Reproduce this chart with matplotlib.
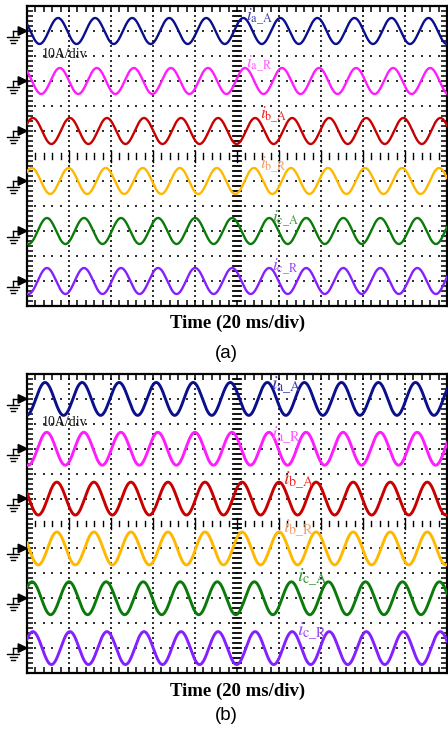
import numpy as np
import matplotlib
matplotlib.use('Agg')
import matplotlib.pyplot as plt

plt.rcParams['mathtext.fontset'] = 'stix'

# datos (unidades: divisiones del osciloscopio)
canales = ['a\\_A', 'a\\_R', 'b\\_A', 'b\\_R', 'c\\_A', 'c\\_R']
centros = [11, 9, 7, 5, 3, 1]
colores = ['#0a0f8c', '#ff1cff', '#c80000', '#ffb800', '#0a7a0a', '#8420ff']
colores_txt = ['#3c3ca8', '#ff5cff', '#ee2a2a', '#f4a070', '#3c963c', '#9a4cf0']
periodo = 0.882          # div por ciclo (20 ms/div)

pico_a = [0.74, 0.78, 0.14, 0.11, 0.475, 0.475]
pico_b = [0.43, 0.47, 0.71, 0.71, 0.12, 0.14]
amp_a = 0.52
amp_b = 0.66

etq_x_a = [5.22, 5.22, 5.55, 5.55, 5.84, 5.84]
etq_dy_a = [0.42, 0.54, 0.5, 0.5, 0.34, 0.42]
etq_x_b = [5.8, 5.8, 6.1, 6.1, 6.43, 6.43]
etq_dy_b = [0.34, 0.34, 0.54, 0.62, 0.62, 0.46]


def panel(ax, picos, amp, etq_x, etq_dy, lw, fs_etq):
    t = np.linspace(0, 10, 2000)
    for i in range(6):
        y = centros[i] + amp * np.cos(2 * np.pi * (t - picos[i]) / periodo)
        ax.plot(t, y, color=colores[i], lw=lw, zorder=3)
        ax.text(etq_x[i], centros[i] + etq_dy[i], r'$i_{\mathrm{' + canales[i] + '}}$',
                color=colores_txt[i], fontsize=fs_etq, va='baseline', ha='left', zorder=4)

        # flecha de referencia y simbolo de tierra
        c = centros[i]
        ax.plot([-0.33, -0.2], [c, c], color='k', lw=1.0, clip_on=False)
        ax.fill([-0.21, 0, -0.21], [c - 0.17, c, c + 0.17], color='k', clip_on=False)
        ax.plot([-0.33, -0.33], [c, c - 0.24], color='k', lw=1.0, clip_on=False)
        for dy, w in [(0.24, 0.14), (0.36, 0.085), (0.48, 0.04)]:
            ax.plot([-0.33 - w, -0.33 + w], [c - dy, c - dy], color='k', lw=1.0, clip_on=False)

    # reticula punteada
    sub_x = np.arange(1, 50) / 5
    sub_y = np.arange(1, 60) / 5
    for gy in range(1, 12):
        if gy != 6:
            ax.scatter(sub_x, np.full_like(sub_x, gy), s=1.6, color='#333333', marker='s', lw=0, zorder=1)
    for gx in range(1, 10):
        if gx != 5:
            ax.scatter(np.full_like(sub_y, gx), sub_y, s=1.6, color='#333333', marker='s', lw=0, zorder=1)

    # ejes centrales con marcas
    for yy in sub_y:
        ax.plot([4.91, 5.09], [yy, yy], color='k', lw=1.3, zorder=2)
    for xx in sub_x:
        h = 0.22 if abs(xx - round(xx)) < 1e-6 else 0.12
        ax.plot([xx, xx], [6 - h, 6 + h], color='k', lw=1.0, zorder=2)

    ax.set_xlim(0, 10)
    ax.set_ylim(0, 12)
    ax.set_xticks(np.arange(0, 10.01, 0.2))
    ax.set_yticks(np.arange(0, 12.01, 0.2))
    ax.tick_params(direction='in', length=4, width=1.1, top=True, right=True,
                   labelbottom=False, labelleft=False)
    for s in ax.spines.values():
        s.set_linewidth(1.6)
    ax.text(0.36, 10.04, '10A/div', family='Liberation Serif', fontsize=10,
            color='#111111', va='center', ha='left')


fig = plt.figure(figsize=(4.48, 7.29), dpi=100)

ax1 = fig.add_axes([27 / 448, 423 / 729, 420 / 448, 300 / 729])
panel(ax1, pico_a, amp_a, etq_x_a, etq_dy_a, 1.7, 12.5)

ax2 = fig.add_axes([27 / 448, 56 / 729, 420 / 448, 299 / 729])
panel(ax2, pico_b, amp_b, etq_x_b, etq_dy_b, 2.1, 14.5)

fig.text(238 / 448, 1 - 323 / 729, 'Time (20 ms/div)', family='Liberation Serif',
         fontweight='bold', fontsize=13.5, ha='center', va='center')
fig.text(226 / 448, 1 - 353 / 729, '(a)', family='Liberation Sans', fontsize=13.5,
         ha='center', va='center')
fig.text(238 / 448, 1 - 691 / 729, 'Time (20 ms/div)', family='Liberation Serif',
         fontweight='bold', fontsize=13.5, ha='center', va='center')
fig.text(226 / 448, 1 - 715 / 729, '(b)', family='Liberation Sans', fontsize=13.5,
         ha='center', va='center')

fig.savefig('out.png', dpi=100)
